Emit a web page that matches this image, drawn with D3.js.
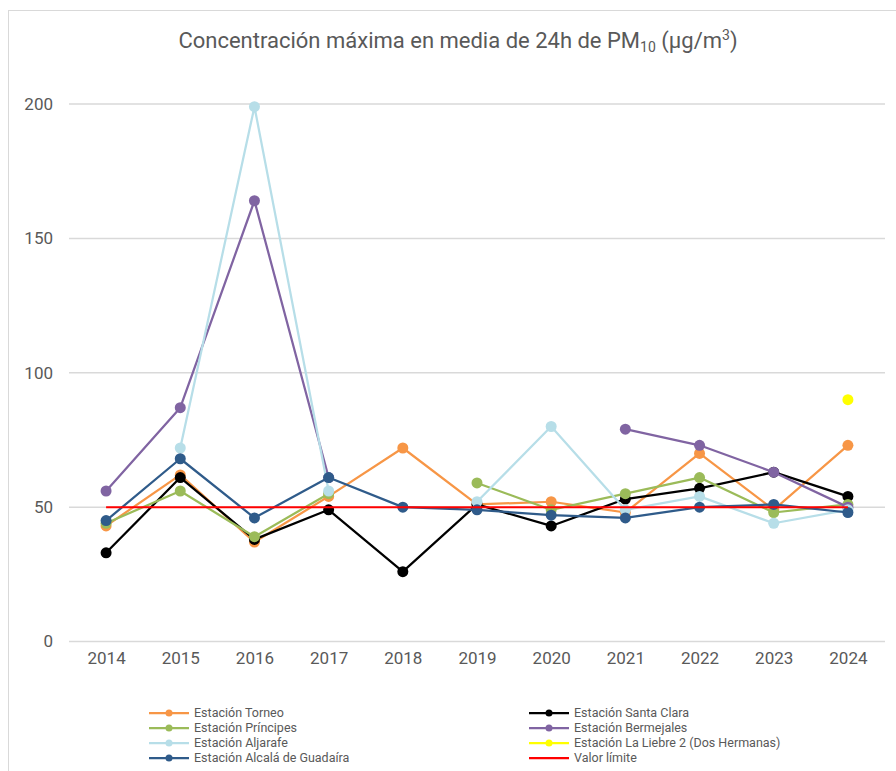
<!DOCTYPE html>
<html>
<head>
<meta charset="utf-8">
<script src="https://cdn.jsdelivr.net/npm/d3@7"></script>
<style>
  body { margin: 0; background: #fff; }
  svg { display: block; font-family: Roboto, "Liberation Sans", sans-serif; }
</style>
</head>
<body>
<div id="chart"></div>
<script>
// years on the category axis
const years = [2014, 2015, 2016, 2017, 2018, 2019, 2020, 2021, 2022, 2023, 2024];
const yTicks = [0, 50, 100, 150, 200];

// one array per station (null = no data that year)
const torneo      = [43, 62, 37, 54, 72, 51, 52, 48, 70, 49, 73];
const santaClara  = [33, 61, 38, 49, 26, 51, 43, 53, 57, 63, 54];
const principes   = [44, 56, 39, 55, null, 59, 49, 55, 61, 48, 51];
const bermejales  = [56, 87, 164, 61, null, null, null, 79, 73, 63, 50];
const aljarafe    = [null, 72, 199, 56, null, 52, 80, 49, 54, 44, 49];
const laLiebre    = [null, null, null, null, null, null, null, null, null, null, 90];
const alcala      = [45, 68, 46, 61, 50, 49, 47, 46, 50, 51, 48];
const valorLimite = [50, 50, 50, 50, 50, 50, 50, 50, 50, 50, 50];

const series = [
  { name: "Estación Torneo", values: torneo, color: "#F79646" },
  { name: "Estación Santa Clara", values: santaClara, color: "#000000" },
  { name: "Estación Príncipes", values: principes, color: "#9BBB59" },
  { name: "Estación Bermejales", values: bermejales, color: "#8064A2" },
  { name: "Estación Aljarafe", values: aljarafe, color: "#B7DEE8" },
  { name: "Estación La Liebre 2 (Dos Hermanas)", values: laLiebre, color: "#FFFF00" },
  { name: "Estación Alcalá de Guadaíra", values: alcala, color: "#2F5B8A" },
  { name: "Valor límite", values: valorLimite, color: "#FF0000", noMarker: true }
];

const width = 896, height = 771;
const textColor = "#595959";

const svg = d3.select("#chart").append("svg")
    .attr("width", width)
    .attr("height", height);

// chart frame
svg.append("rect")
    .attr("x", 8.5).attr("y", 10.5)
    .attr("width", width + 10).attr("height", height + 10)
    .attr("fill", "#fff")
    .attr("stroke", "#d9d9d9");

// title with PM10 subscript and m3 superscript
const title = svg.append("text")
    .attr("x", 458).attr("y", 48)
    .attr("text-anchor", "middle")
    .attr("font-size", 22)
    .attr("fill", textColor);
title.append("tspan").text("Concentración máxima en media de 24h de PM");
title.append("tspan").attr("font-size", 14).attr("dy", 4).text("10");
title.append("tspan").attr("dy", -4).text(" (µg/m");
title.append("tspan").attr("font-size", 14).attr("dy", -8).text("3");
title.append("tspan").attr("dy", 8).text(")");

const xScale = d3.scalePoint()
    .domain(years)
    .range([69, 885])
    .padding(0.5);

const yScale = d3.scaleLinear()
    .domain([0, 200])
    .range([641.5, 104]);

// gridlines
svg.append("g")
    .selectAll("line")
    .data(yTicks)
    .join("line")
    .attr("x1", 69).attr("x2", 885)
    .attr("y1", d => yScale(d)).attr("y2", d => yScale(d))
    .attr("stroke", "#d9d9d9")
    .attr("stroke-width", 1.5);

// y axis labels
const yAxis = svg.append("g")
    .attr("transform", "translate(53,0)")
    .call(d3.axisLeft(yScale).tickValues(yTicks).tickSize(0).tickPadding(0));
yAxis.select(".domain").remove();
yAxis.selectAll("text")
    .attr("font-size", 17)
    .attr("font-family", "Roboto, sans-serif")
    .attr("fill", textColor);

// x axis labels
const xAxis = svg.append("g")
    .attr("transform", "translate(0,652)")
    .call(d3.axisBottom(xScale).tickSize(0).tickPadding(0));
xAxis.select(".domain").remove();
xAxis.selectAll("text")
    .attr("font-size", 17)
    .attr("font-family", "Roboto, sans-serif")
    .attr("fill", textColor);

const line = d3.line()
    .defined(d => d.v != null)
    .x(d => xScale(d.year))
    .y(d => yScale(d.v));

const plot = svg.append("g");

series.forEach(s => {
    const pts = years.map((year, i) => ({ year: year, v: s.values[i] }));
    const g = plot.append("g");
    g.append("path")
        .datum(pts)
        .attr("d", line)
        .attr("fill", "none")
        .attr("stroke", s.color)
        .attr("stroke-width", s.noMarker ? 2 : 2.25)
        .attr("stroke-linejoin", "round");
    if (!s.noMarker) {
        g.selectAll("circle")
            .data(pts.filter(d => d.v != null))
            .join("circle")
            .attr("cx", d => xScale(d.year))
            .attr("cy", d => yScale(d.v))
            .attr("r", 5.5)
            .attr("fill", s.color);
    }
});

// legend, two columns filled row by row
const legend = svg.append("g");
const colX = [149, 529];
series.forEach((s, i) => {
    const x = colX[i % 2];
    const y = 713 + Math.floor(i / 2) * 15;
    const item = legend.append("g").attr("transform", `translate(${x},${y})`);
    item.append("line")
        .attr("x1", 0).attr("x2", 40)
        .attr("stroke", s.color)
        .attr("stroke-width", 2.25);
    if (!s.noMarker) {
        item.append("circle").attr("cx", 20).attr("r", 3.5).attr("fill", s.color);
    }
    item.append("text")
        .attr("x", 45).attr("dy", "0.35em")
        .attr("font-size", 12.5)
        .attr("fill", textColor)
        .text(s.name);
});
</script>
</body>
</html>
